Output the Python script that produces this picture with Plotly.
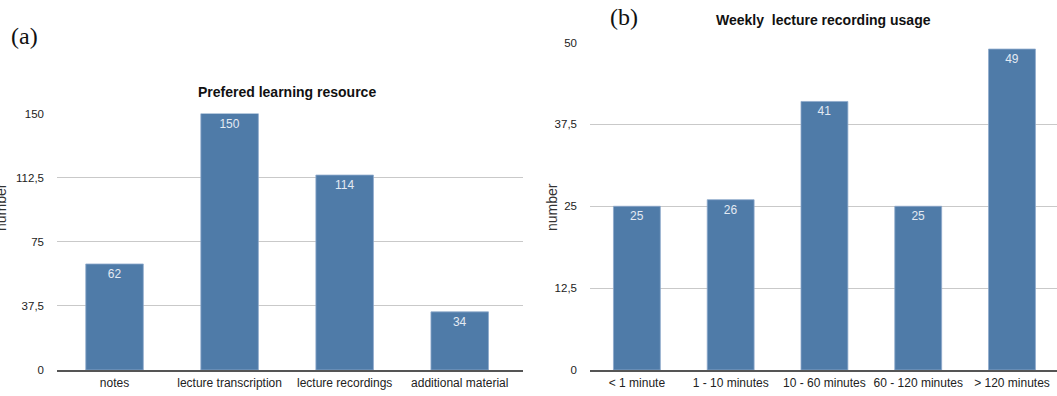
import plotly.graph_objects as go

# Panel (a)
cats_a = ["notes", "lecture transcription", "lecture recordings", "additional material"]
vals_a = [62, 150, 114, 34]
ticks_a = [0, 37.5, 75, 112.5, 150]
ticktext_a = ["0", "37,5", "75", "112,5", "150"]

# Panel (b)
cats_b = ["< 1 minute", "1 - 10 minutes", "10 - 60 minutes", "60 - 120 minutes", "> 120 minutes"]
vals_b = [25, 26, 41, 25, 49]
ticks_b = [0, 12.5, 25, 37.5, 50]
ticktext_b = ["0", "12,5", "25", "37,5", "50"]

W, H = 1057, 396
BAR = "#4f7ba8"
FONT = "Liberation Sans, Arial, sans-serif"

def px(x):
    return x / W

def py(y):
    return (H - y) / H

fig = go.Figure()
fig.add_trace(go.Bar(
    x=cats_a, y=vals_a, text=[str(v) for v in vals_a], width=0.5,
    marker=dict(color=BAR, line=dict(color="#8eaacb", width=0.8)),
    textposition="inside", insidetextanchor="end",
    textfont=dict(color="#e3eaf3", size=12, family=FONT),
    xaxis="x", yaxis="y", showlegend=False, cliponaxis=False,
))
fig.add_trace(go.Bar(
    x=cats_b, y=vals_b, text=[str(v) for v in vals_b], width=0.5,
    marker=dict(color=BAR, line=dict(color="#8eaacb", width=0.8)),
    textposition="inside", insidetextanchor="end",
    textfont=dict(color="#e3eaf3", size=12, family=FONT),
    xaxis="x2", yaxis="y2", showlegend=False, cliponaxis=False,
))

axis_common_x = dict(
    showgrid=False, showline=True, linecolor="#555555", linewidth=1.5,
    ticks="", tickfont=dict(size=12, color="#222222", family=FONT),
    zeroline=False, fixedrange=True, automargin=False, ticklabelstandoff=1,
)
axis_common_y = dict(
    showgrid=True, gridcolor="#c9c9c9", gridwidth=1, zeroline=False,
    showline=False, ticks="", tickfont=dict(size=11.5, color="#222222", family=FONT),
    ticklabelstandoff=12, fixedrange=True, automargin=False,
)

fig.update_layout(
    template="none",
    width=W, height=H,
    margin=dict(l=0, r=0, t=0, b=0, pad=0),
    paper_bgcolor="white", plot_bgcolor="white",
    bargap=0.5,
    xaxis=dict(domain=[px(57), px(523)], range=[-0.5, 3.55], anchor="y", **axis_common_x),
    yaxis=dict(domain=[py(370), py(113.5)], range=[0, 150], anchor="x",
               tickvals=ticks_a, ticktext=ticktext_a, **axis_common_y),
    xaxis2=dict(domain=[px(590), 1.0], range=[-0.5, 4.48], anchor="y2", **axis_common_x),
    yaxis2=dict(domain=[py(370), py(42.5)], range=[0, 50], anchor="x2",
                tickvals=ticks_b, ticktext=ticktext_b, **axis_common_y),
    annotations=[
        dict(text="(a)", x=px(9), y=py(36), xref="paper", yref="paper",
             xanchor="left", yanchor="middle", showarrow=False,
             font=dict(family="Liberation Serif, Times New Roman, serif", size=24, color="#111111")),
        dict(text="(b)", x=px(608), y=py(17), xref="paper", yref="paper",
             xanchor="left", yanchor="middle", showarrow=False,
             font=dict(family="Liberation Serif, Times New Roman, serif", size=24, color="#111111")),
        dict(text="<b>Prefered learning resource</b>", x=px(287), y=py(92), xref="paper", yref="paper",
             xanchor="center", yanchor="middle", showarrow=False,
             font=dict(family=FONT, size=14, color="#111111")),
        dict(text="<b>Weekly\u00a0 lecture recording usage</b>", x=px(823), y=py(20), xref="paper", yref="paper",
             xanchor="center", yanchor="middle", showarrow=False,
             font=dict(family=FONT, size=14, color="#111111")),
        dict(text="number", x=px(1), y=py(207), xref="paper", yref="paper",
             xanchor="center", yanchor="middle", showarrow=False, textangle=-90,
             font=dict(family=FONT, size=14, color="#333333")),
        dict(text="number", x=px(552), y=py(207), xref="paper", yref="paper",
             xanchor="center", yanchor="middle", showarrow=False, textangle=-90,
             font=dict(family=FONT, size=14, color="#333333")),
    ],
)

fig.write_html(
    "out.html",
    config={"displayModeBar": False, "staticPlot": True},
    post_script="document.body.style.margin='0px';document.body.style.overflow='hidden';",
)
